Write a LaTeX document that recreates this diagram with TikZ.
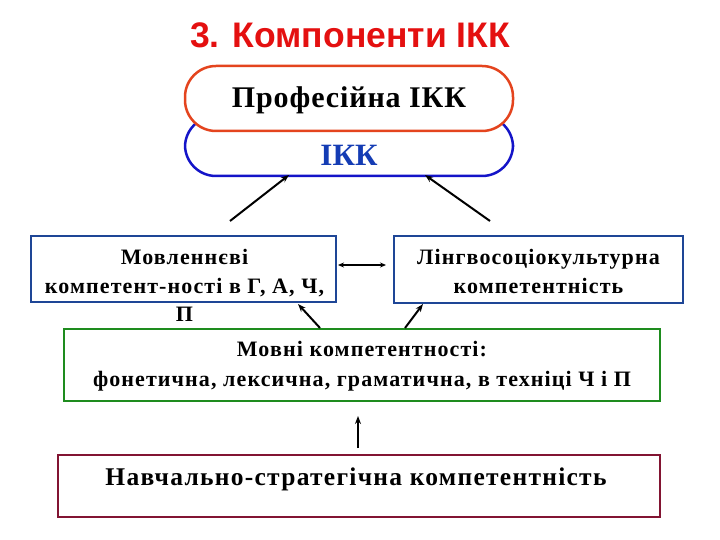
\documentclass[tikz,border=0pt]{standalone}
\usepackage{fontspec}
\setmainfont{Liberation Serif}
\newfontfamily\spaced[LetterSpace=5]{Liberation Serif}
\newfontfamily\spacedsmall[LetterSpace=3]{Liberation Serif}
\newfontfamily\titlefont{Liberation Sans}
\usetikzlibrary{arrows.meta}
\definecolor{titlered}{RGB}{228,16,16}
\definecolor{stadred}{RGB}{228,68,30}
\definecolor{stadblue}{RGB}{20,20,200}
\definecolor{ikkblue}{RGB}{20,60,180}
\definecolor{boxblue}{RGB}{30,70,150}
\definecolor{boxgreen}{RGB}{30,140,30}
\definecolor{boxmaroon}{RGB}{130,20,50}
\begin{document}
\begin{tikzpicture}[x=1pt,y=-1pt,
  stadium/.style={draw, line width=2.5pt, fill=white, rounded corners=31pt, minimum width=328pt, inner sep=0pt},
  frame/.style={draw, line width=2pt, fill=white, inner sep=0pt},
  boxtext/.style={font=\spaced\bfseries\fontsize{22}{28.5}\selectfont, align=center, inner sep=0pt, anchor=north},
  arr/.style={-{Stealth[length=8pt,width=6pt]}, line width=2pt},
  dblarr/.style={{Stealth[length=6pt,width=5pt]}-{Stealth[length=6pt,width=5pt]}, line width=2pt}]
\useasboundingbox (0,0) rectangle (720,540);
% title
\node[font=\titlefont\bfseries\fontsize{35.5}{40}\selectfont, text=titlered, anchor=base] (title) at (350,48) {3. Компоненти ІКК};
% stadiums
\node[stadium, draw=stadblue, minimum height=60pt] (ikk) at (349,146) {};
\node[font=\bfseries\fontsize{31}{36}\selectfont, text=ikkblue, anchor=base] (ikkt) at (349,166) {ІКК};
\node[stadium, draw=stadred, minimum height=65pt] (prof) at (349,98.5) {};
\node[font=\spacedsmall\bfseries\fontsize{30}{36}\selectfont, anchor=base] (proft) at (349,108) {Професійна ІКК};
% boxes
\node[frame, draw=boxblue, minimum width=305pt, minimum height=66pt] (mov) at (183.5,269) {};
\node[frame, draw=boxblue, minimum width=289pt, minimum height=67pt] (ling) at (538.5,269.5) {};
\node[frame, draw=boxgreen, minimum width=596pt, minimum height=72pt] (lang) at (362,365) {};
\node[frame, draw=boxmaroon, minimum width=602pt, minimum height=62pt] (strat) at (359,486) {};
% texts
\node[boxtext] (movt) at (184.5,249.5) {Мовленнєві\\компетент-ності в Г, А, Ч,\\П};
\node[boxtext] (lingt) at (538.5,249.5) {Лінгвосоціокультурна\\компетентність};
\node[boxtext, font=\spaced\bfseries\fontsize{22}{30}\selectfont] (langt) at (362,341) {Мовні компетентності:\\фонетична, лексична, граматична, в техніці Ч і П};
\node[font=\spaced\bfseries\fontsize{25.5}{30}\selectfont, anchor=base] (stratt) at (356,485) {Навчально-стратегічна компетентність};
% connector coordinates
\coordinate (a1s) at (230,221);
\coordinate (a1e) at (289,175);
\coordinate (a2s) at (490,221);
\coordinate (a2e) at (425,175);
\coordinate (d1) at (338,265);
\coordinate (d2) at (386,265);
\coordinate (b1s) at (320,328);
\coordinate (b1e) at (298,304);
\coordinate (b2s) at (405,328);
\coordinate (b2e) at (423,304);
\coordinate (cs) at (358,448);
\coordinate (ce) at (358,416);
\draw[arr] (a1s) -- (a1e);
\draw[arr] (a2s) -- (a2e);
\draw[dblarr] (d1) -- (d2);
\draw[arr] (b1s) -- (b1e);
\draw[arr] (b2s) -- (b2e);
\draw[arr] (cs) -- (ce);
\end{tikzpicture}
\end{document}
